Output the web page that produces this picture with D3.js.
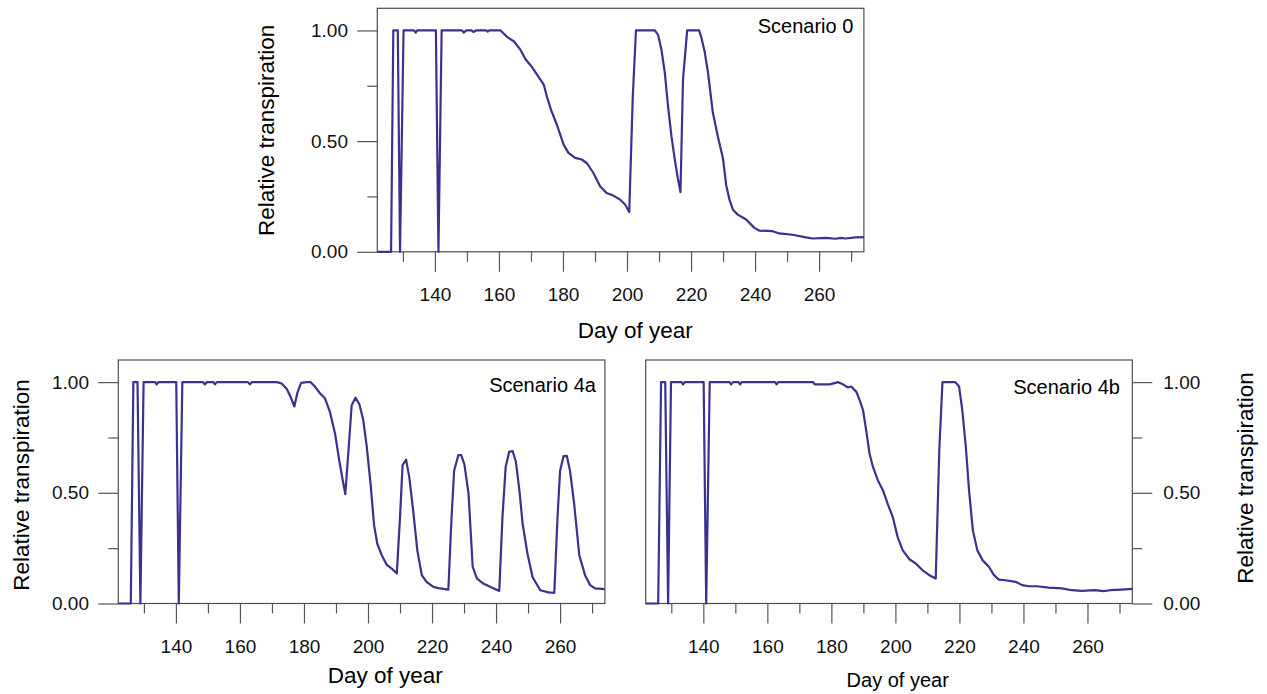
<!DOCTYPE html>
<html>
<head>
<meta charset="utf-8">
<script src="https://cdn.jsdelivr.net/npm/d3@7"></script>
<style>
  body { margin: 0; background: #fff; }
  svg { display: block; font-family: "Liberation Sans", Arial, Helvetica, sans-serif; }
  .axis .domain { display: none; }
  .axis line { stroke: #555; stroke-width: 1.2; }
  .axis text { fill: #111; font-size: 19px; }
  .frame { fill: none; stroke: #4d4d4d; stroke-width: 1.2; }
  .line { fill: none; stroke: #3a3191; stroke-width: 2.2; stroke-linejoin: round; }
</style>
</head>
<body>
<div id="chart"></div>
<script>
// values (day of year, relative transpiration)
let days0 = [122, 126.3, 127, 128.4, 129.1, 130.2, 133.5, 134, 134.5, 140.3, 141.1, 142.1, 148.5, 149, 149.8, 151.5, 152, 152.8, 156, 156.5, 157, 160.5,
  162.6, 164.7, 166.7, 168.3, 170.4, 171.9, 174, 175, 176.3, 178.1, 180.2, 181.7, 183.8, 185.9, 187.5, 189.5, 191.6, 193.6, 195.7, 197.8, 199.4, 200.7,
  201.8, 202.8, 208.7, 209.7, 210.8, 211.8, 212.8, 213.9, 214.9, 215.9, 216.7, 217.5, 218.8, 222.5, 223.2, 224.3, 225.3, 226.8, 228.4, 230, 231, 232,
  233.1, 234.6, 237.2, 239.8, 241.3, 245.5, 247.6, 251.7, 255.9, 258, 262.1, 265.2, 266.8, 268.3, 271.4, 274];
let rt0 = [0, 0, 1, 1, 0, 1, 1, 0.99, 1, 1, 0, 1, 1, 0.99, 1, 1, 0.993, 1, 1, 0.995, 1, 1,
  0.97, 0.95, 0.913, 0.87, 0.833, 0.80, 0.755, 0.70, 0.64, 0.574, 0.484, 0.447, 0.424, 0.417, 0.40, 0.356, 0.296, 0.266, 0.254, 0.236, 0.214, 0.18,
  0.70, 1, 1, 0.98, 0.91, 0.81, 0.66, 0.52, 0.42, 0.33, 0.27, 0.78, 1, 1, 0.97, 0.90, 0.81, 0.63, 0.52, 0.42, 0.30, 0.236,
  0.19, 0.168, 0.146, 0.108, 0.096, 0.093, 0.083, 0.077, 0.065, 0.06, 0.063, 0.059, 0.063, 0.06, 0.065, 0.066];

let days4a = [122, 125.9, 126.7, 128, 128.9, 129.9, 133.5, 134, 134.5, 140.1, 140.9, 142, 148.5, 149, 149.7, 151.7, 152.2, 152.8, 162.5, 163.1, 163.7,
  171.5, 173, 174.6, 175.8, 177, 177.9, 179.1, 180.8, 182.1, 183.4, 185, 186.6, 188.1, 189.7, 191, 192.1, 192.9, 193.9, 194.9, 196.1, 197.3, 198.5,
  199.6, 200.8, 201.9, 202.9, 204.3, 205.8, 207.4, 209, 210, 210.8, 211.9, 212.9, 214.2, 215.4, 216.8, 218.3, 220.4, 222.5, 225.1, 226.1, 226.9,
  228.2, 229.1, 230.1, 231.4, 232.7, 234, 236, 238.6, 241, 242, 243, 244.1, 245.2, 246.2, 247.3, 248.3, 249.8, 251.4, 253.8, 256.4, 258.2, 259.2,
  260, 261.1, 262.1, 263.1, 264.4, 266, 267.8, 269.4, 270.9, 274];
let rt4a = [0, 0, 1, 1, 0, 1, 1, 0.99, 1, 1, 0, 1, 1, 0.99, 1, 1, 0.99, 1, 1, 0.99, 1,
  1, 0.994, 0.97, 0.934, 0.89, 0.95, 0.997, 1, 1, 0.98, 0.95, 0.926, 0.866, 0.768, 0.648, 0.557, 0.494, 0.69, 0.896, 0.93, 0.90, 0.83,
  0.71, 0.54, 0.354, 0.27, 0.218, 0.176, 0.158, 0.136, 0.39, 0.625, 0.65, 0.57, 0.407, 0.24, 0.128, 0.098, 0.075, 0.068, 0.063, 0.39, 0.60,
  0.67, 0.67, 0.63, 0.497, 0.166, 0.113, 0.09, 0.072, 0.057, 0.39, 0.617, 0.685, 0.688, 0.64, 0.51, 0.36, 0.226, 0.12, 0.06, 0.05, 0.048, 0.39,
  0.60, 0.666, 0.667, 0.60, 0.45, 0.218, 0.128, 0.083, 0.068, 0.065];

let days4b = [122, 125.9, 126.8, 128.1, 129, 129.9, 133.2, 133.7, 134.2, 140.1, 140.9, 142, 148.2, 148.7, 149.3, 151, 151.5, 152, 162.4, 162.9, 163.4,
  174.3, 174.8, 179, 179.5, 182.1, 183.6, 185.2, 186.2, 187.8, 188.8, 189.9, 190.9, 191.9, 193, 194.5, 196.1, 197.6, 199.2, 200.7, 202.3, 204.4,
  206.4, 208.5, 210.6, 212.6, 213.7, 214.7, 218.7, 219.9, 220.9, 222, 223, 224.2, 225.6, 227.2, 229.2, 230.8, 232.3, 234.4, 237.5, 239.6, 241.7,
  244.3, 247.9, 252, 255.1, 258.2, 262.4, 265, 267.1, 270.6, 274];
let rt4b = [0, 0, 1, 1, 0, 1, 1, 0.99, 1, 1, 0, 1, 1, 0.99, 1, 1, 0.99, 1, 1, 0.99, 1,
  1, 0.99, 0.99, 0.99, 1, 0.99, 0.976, 0.98, 0.956, 0.92, 0.873, 0.78, 0.678, 0.617, 0.557, 0.512, 0.45, 0.39, 0.30, 0.24, 0.20,
  0.18, 0.15, 0.128, 0.113, 0.69, 1, 1, 0.98, 0.873, 0.708, 0.512, 0.33, 0.24, 0.196, 0.166, 0.128, 0.108, 0.105, 0.098, 0.083, 0.078,
  0.078, 0.072, 0.068, 0.06, 0.057, 0.06, 0.056, 0.06, 0.063, 0.066];

let xTicksMajor = [140, 160, 180, 200, 220, 240, 260],
    xTicksMinor = [130, 150, 170, 190, 210, 230, 250, 270],
    yTicksMajor = [0, 0.5, 1],
    yTicksMinor = [0.25, 0.75];

let xTitle = "Day of year",
    yTitle = "Relative transpiration";

let width = 1267, height = 694,
    panelW = 486.6, panelH = 243.5;

let svg = d3.select("#chart")
    .append("svg")
    .attr("width", width)
    .attr("height", height);

let x = d3.scaleLinear()
    .domain([122, 274])
    .range([0, panelW]);

let y = d3.scaleLinear()
    .domain([0, 1.1])
    .range([panelH, 0]);

let valueline = d3.line()
    .x(function(d) { return x(d.day); })
    .y(function(d) { return y(d.rt); });

// a little room below so the zero runs stay visible on the frame
svg.append("clipPath")
    .attr("id", "clip")
    .append("rect")
    .attr("y", -2)
    .attr("width", panelW)
    .attr("height", panelH + 4);

let panels = [
  {days: days0, rt: rt0, label: "Scenario 0", left: 377.3, top: 8.3, side: "left",
   labelX: -10.6, labelY: 25, xTitleX: 258, xTitleY: 86, xTitleSize: 22.5, yTitleX: -103, yTitleY: 122},
  {days: days4a, rt: rt4a, label: "Scenario 4a", left: 118.3, top: 360, side: "left",
   labelX: -9, labelY: 31.7, xTitleX: 267, xTitleY: 79, xTitleSize: 22.5, yTitleX: -89, yTitleY: 125},
  {days: days4b, rt: rt4b, label: "Scenario 4b", left: 645.7, top: 360, side: "right",
   labelX: -12.3, labelY: 34, xTitleX: 252, xTitleY: 83.4, xTitleSize: 20, yTitleX: 607.6, yTitleY: 118}
];

panels.forEach(function(p) {
    let g = svg.append("g")
        .attr("transform", "translate(" + p.left + "," + p.top + ")");

    let data = p.days.map(function(d, i) { return {day: d, rt: p.rt[i]}; });

    // x axis, labelled and unlabelled ticks
    g.append("g")
        .attr("class", "x axis")
        .attr("transform", "translate(0," + panelH + ")")
        .call(d3.axisBottom(x).tickValues(xTicksMajor).tickSize(20).tickPadding(15.6).tickFormat(d3.format("d")));
    g.append("g")
        .attr("class", "x axis minor")
        .attr("transform", "translate(0," + panelH + ")")
        .call(d3.axisBottom(x).tickValues(xTicksMinor).tickSize(10).tickFormat(""));

    // y axis on the left or right side
    let yMajor = p.side === "left" ? d3.axisLeft(y) : d3.axisRight(y),
        yMinor = p.side === "left" ? d3.axisLeft(y) : d3.axisRight(y);
    let yShift = p.side === "left" ? 0 : panelW;

    g.append("g")
        .attr("class", "y axis")
        .attr("transform", "translate(" + yShift + ",0)")
        .call(yMajor.tickValues(yTicksMajor).tickSize(20).tickPadding(p.side === "left" ? 9.3 : 11).tickFormat(d3.format(".2f")));
    g.append("g")
        .attr("class", "y axis minor")
        .attr("transform", "translate(" + yShift + ",0)")
        .call(yMinor.tickValues(yTicksMinor).tickSize(10).tickFormat(""));

    g.append("rect")
        .attr("class", "frame")
        .attr("width", panelW)
        .attr("height", panelH);

    g.append("path")
        .datum(data)
        .attr("class", "line")
        .attr("clip-path", "url(#clip)")
        .attr("d", valueline);

    g.append("text")
        .attr("x", panelW + p.labelX)
        .attr("y", p.labelY)
        .attr("text-anchor", "end")
        .style("font-size", "20px")
        .text(p.label);

    g.append("text")
        .attr("x", p.xTitleX)
        .attr("y", panelH + p.xTitleY)
        .attr("text-anchor", "middle")
        .style("font-size", p.xTitleSize + "px")
        .text(xTitle);

    g.append("text")
        .attr("transform", "translate(" + p.yTitleX + "," + p.yTitleY + ") rotate(-90)")
        .attr("text-anchor", "middle")
        .style("font-size", "22.5px")
        .text(yTitle);
});
</script>
</body>
</html>
